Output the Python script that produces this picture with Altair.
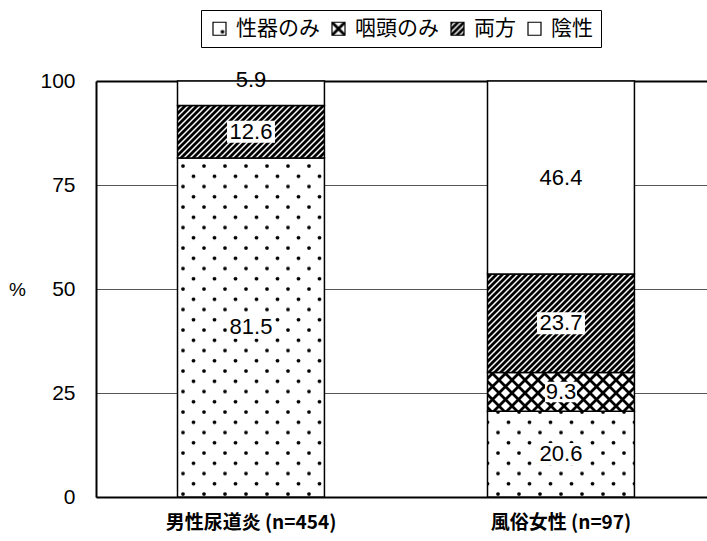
import altair as alt
import jinja2
import pandas as pd

# ---- data -------------------------------------------------------------
groups = ["男性尿道炎 (n=454)", "風俗女性 (n=97)"]
categories = ["性器のみ", "咽頭のみ", "両方", "陰性"]
male_pct = [81.5, 0.0, 12.6, 5.9]
female_pct = [20.6, 9.3, 23.7, 46.4]
y_ticks = [0, 25, 50, 75, 100]

# fill for each category (SVG patterns defined on the page)
fills = ["url(#dots)", "url(#cross)", "url(#hatch)", "white"]

rows = []
for g, vals in zip(groups, [male_pct, female_pct]):
    for k, (c, v) in enumerate(zip(categories, vals)):
        if v > 0:
            rows.append({"group": g, "category": c, "order": k,
                         "pct": v, "label": f"{v:.1f}"})
df = pd.DataFrame(rows)

# small vertical nudge (px) for the label of the thin top segment
label_dy = {(groups[0], "陰性"): -13}
df["dy"] = [label_dy.get((g, c), 0) for g, c in zip(df["group"], df["category"])]

# ---- scales / axes ----------------------------------------------------
xscale = alt.Scale(domain=groups, paddingInner=0.526, paddingOuter=0.2485, align=0.529)
yscale = alt.Scale(domain=[0, 100], nice=False)

xaxis = alt.Axis(
    labelAngle=0, ticks=False, grid=False,
    domainColor="black", domainWidth=2,
    labelFont="Noto Sans CJK JP", labelFontSize=19, labelFontWeight="bold",
    labelColor="black", labelPadding=16, title=None,
)
yaxis = alt.Axis(
    values=y_ticks, ticks=False, grid=True,
    gridColor={"condition": {"test": "datum.value === 100", "value": "black"}, "value": "#555555"},
    gridWidth={"condition": {"test": "datum.value === 100", "value": 2}, "value": 1},
    domainColor="black", domainWidth=2,
    labelFont="Liberation Sans", labelFontSize=21, labelColor="black", labelPadding=21,
    title="%", titleAngle=0, titleX=-79, titleY=208, titleAlign="center",
    titleBaseline="middle", titleFont="Liberation Sans", titleFontSize=19,
    titleFontWeight="normal", titleColor="black",
)
legend = alt.Legend(
    orient="none", legendX=105, legendY=-71, direction="horizontal", title=None,
    symbolType="square", symbolSize=169, symbolStrokeColor="black", symbolStrokeWidth=1.2,
    labelFont="Noto Sans CJK JP", labelFontSize=21, labelColor="black", labelOffset=6,
    columnPadding=8, padding=8, strokeColor="black", fillColor="white",
)

base = alt.Chart(df).transform_stack(
    stack="pct", groupby=["group"], as_=["y0", "y1"],
    sort=[alt.SortField("order", order="ascending")],
).transform_calculate(mid="(datum.y0 + datum.y1) / 2")

x_enc = alt.X("group:N", sort=groups, scale=xscale, axis=xaxis)

bars = base.mark_bar(stroke="black", strokeWidth=1.5).encode(
    x=x_enc,
    y=alt.Y("y0:Q", scale=yscale, axis=yaxis),
    y2="y1:Q",
    fill=alt.Fill("category:N", sort=categories,
                  scale=alt.Scale(domain=categories, range=fills), legend=legend),
)

# white boxes behind the value labels
box_wide = "M-1,-0.46L1,-0.46L1,0.46L-1,0.46Z"
box_narrow = "M-1,-0.64L1,-0.64L1,0.64L-1,0.64Z"
long_label = "length(datum.label) > 3"
boxes = base.mark_point(filled=True, fill="white", strokeWidth=0, opacity=1).encode(
    x=x_enc,
    y=alt.Y("mid:Q", scale=yscale),
    shape=alt.condition(long_label, alt.value(box_wide), alt.value(box_narrow)),
    size=alt.condition(long_label, alt.value(48 * 48), alt.value(32 * 32)),
)

labels = base.mark_text(
    font="Liberation Sans", fontSize=22, color="black", dy={"expr": "datum.dy"},
).encode(
    x=x_enc,
    y=alt.Y("mid:Q", scale=yscale),
    text="label:N",
)

chart = (
    alt.layer(bars, boxes, labels)
    .properties(
        width=611, height=416,
        autosize=alt.AutoSizeParams(type="none"),
        padding={"left": 96, "top": 81, "right": 0, "bottom": 44},
        background="white",
    )
    .configure_view(stroke="transparent")
)

PATTERN_DEFS = """
<svg width="0" height="0" style="position:absolute">
  <defs>
    <pattern id="dots" patternUnits="userSpaceOnUse" width="21" height="20.5">
      <rect width="21" height="20.5" fill="white"/>
      <circle cx="3" cy="3" r="1.9" fill="black"/>
      <circle cx="13.5" cy="13.25" r="1.9" fill="black"/>
    </pattern>
    <pattern id="hatch" patternUnits="userSpaceOnUse" width="6" height="6">
      <rect width="6" height="6" fill="white"/>
      <path d="M-1.5,1.5 L1.5,-1.5 M0,6 L6,0 M4.5,7.5 L7.5,4.5" stroke="black" stroke-width="2.8"/>
    </pattern>
    <pattern id="cross" patternUnits="userSpaceOnUse" width="13" height="13">
      <rect width="13" height="13" fill="white"/>
      <path d="M0,0 L13,13 M13,0 L0,13" stroke="black" stroke-width="2.8"/>
    </pattern>
  </defs>
</svg>
"""

PAGE = jinja2.Template("""<!DOCTYPE html>
<html>
<head>
<meta charset="utf-8">
<style>
  body { margin: 0; overflow: hidden; background: white; }
  #{{ output_div }}.vega-embed { width: 100%; display: flex; }
</style>
<script type="text/javascript" src="{{ base_url }}/vega@{{ vega_version }}"></script>
<script type="text/javascript" src="{{ base_url }}/vega-lite@{{ vegalite_version }}"></script>
<script type="text/javascript" src="{{ base_url }}/vega-embed@{{ vegaembed_version }}"></script>
</head>
<body>
""" + PATTERN_DEFS + """
<div id="{{ output_div }}"></div>
<script type="text/javascript">
  vegaEmbed("#{{ output_div }}", {{ spec }}, {{ embed_options }}).catch(console.error);
</script>
</body>
</html>
""")

chart.save("out.html", embed_options={"renderer": "svg", "actions": False}, template=PAGE)
